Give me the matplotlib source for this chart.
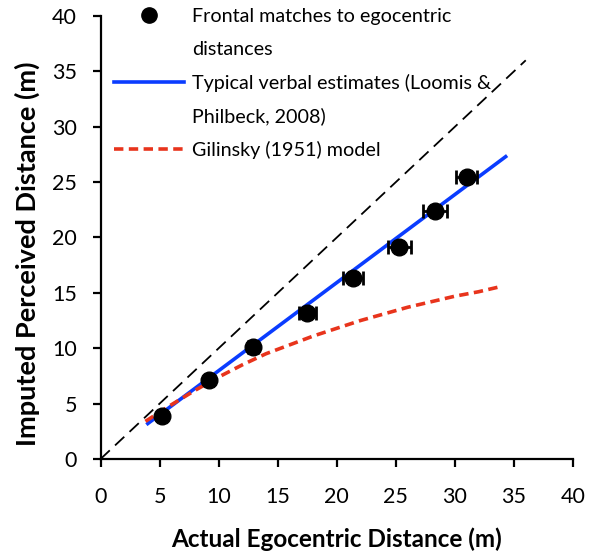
import matplotlib
matplotlib.use("Agg")
import matplotlib.pyplot as plt
from matplotlib.lines import Line2D

plt.rcParams['font.family'] = ['Lato', 'DejaVu Sans']

# frontal matches (mean) with horizontal error bars
match_x = [5.2, 9.2, 12.9, 17.5, 21.4, 25.3, 28.3, 31.0]
match_y = [3.9, 7.1, 10.1, 13.2, 16.3, 19.1, 22.4, 25.5]
match_xerr = [0.2, 0.3, 0.4, 0.7, 0.85, 1.0, 1.0, 0.9]

# typical verbal estimates line
verbal_x = [4.0, 34.3]
verbal_y = [3.2, 27.3]

# Gilinsky (1951) model curve
gil_x = [3.8, 6, 8, 10, 12, 14, 16, 18, 20, 22, 24, 26, 28, 30, 32, 34]
gil_y = [3.4, 4.9, 6.2, 7.4, 8.5, 9.5, 10.3, 11.1, 11.8, 12.5, 13.1, 13.7, 14.2, 14.7, 15.1, 15.6]

# veridical reference
ident_x = [0, 36]
ident_y = [0, 36]

blue = '#0A3CFF'
red = '#E8341C'

fig = plt.figure(figsize=(5.95, 5.54), dpi=100)
ax = fig.add_axes([0.169, 0.1715, 0.794, 0.7996])

ax.plot(ident_x, ident_y, color='black', lw=1.3, dashes=(7, 4), zorder=1)
ax.plot(verbal_x, verbal_y, color=blue, lw=2.6, zorder=2)
ax.plot(gil_x, gil_y, color=red, lw=2.6, dashes=(2.6, 1.5), zorder=3)
ax.errorbar(match_x, match_y, xerr=match_xerr, fmt='o', color='black',
            ms=12, elinewidth=2, capsize=5, capthick=2, zorder=4)

ax.set_xlim(0, 40)
ax.set_ylim(0, 40)
ax.set_xticks(range(0, 41, 5))
ax.set_yticks(range(0, 41, 5))
for s in ['top', 'right']:
    ax.spines[s].set_visible(False)
for s in ['left', 'bottom']:
    ax.spines[s].set_linewidth(1.6)
ax.tick_params(direction='out', length=6, width=1.6, labelsize=15.5)
ax.tick_params(axis='x', pad=14)
ax.tick_params(axis='y', pad=11)
ax.set_xlabel('Actual Egocentric Distance (m)', fontsize=17.5, fontweight='bold', labelpad=15)
ax.set_ylabel('Imputed Perceived Distance (m)', fontsize=19.5, fontweight='bold')
ax.yaxis.set_label_coords(-0.129, 0.463)

# legend: wrapped lines are their own rows with blank handles
blank = Line2D([], [], ls='none')
handles = [
    Line2D([], [], ls='none', marker='o', color='black', ms=11),
    blank,
    Line2D([], [], color=blue, lw=2.6),
    blank,
    Line2D([], [], color=red, lw=2.6, dashes=(2.6, 1.5)),
]
labels = [
    'Frontal matches to egocentric',
    'distances',
    'Typical verbal estimates (Loomis &',
    'Philbeck, 2008)',
    'Gilinsky (1951) model',
]
fig.legend(handles, labels, loc='upper left',
           bbox_to_anchor=(114 / 595, 1 - 8 / 554), frameon=False, fontsize=14.2,
           handlelength=3.55, handletextpad=0.4, labelspacing=0.8,
           borderpad=0, borderaxespad=0)

fig.savefig('out.png', dpi=100)
